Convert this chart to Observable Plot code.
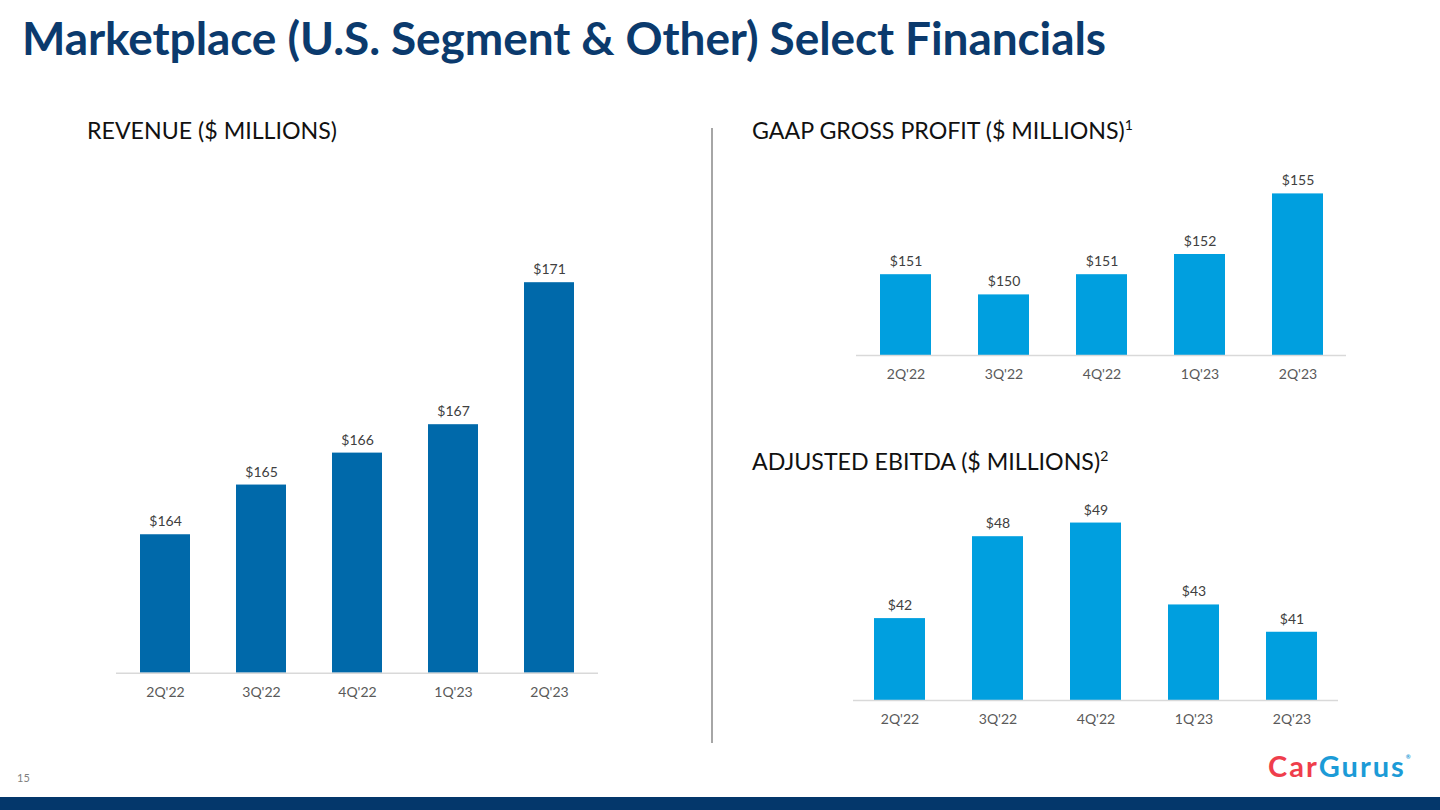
<!DOCTYPE html>
<html>
<head>
<meta charset="utf-8">
<script src="https://cdn.jsdelivr.net/npm/d3@7"></script>
<script src="https://cdn.jsdelivr.net/npm/@observablehq/plot@0.6"></script>
<style>
  html, body { margin: 0; padding: 0; background: #fff; }
  #page { position: relative; width: 1440px; height: 810px; overflow: hidden; font-family: Lato, "Open Sans", sans-serif; }
  .abs { position: absolute; }
  #title { left: 22px; top: 10px; font-size: 46px; font-weight: 700; color: #0b3a6d; white-space: nowrap; letter-spacing: -0.1px; }
  .sub { font-size: 23.2px; color: #111; white-space: nowrap; }
  .sub sup { font-size: 14px; vertical-align: 9px; }
  #divider { left: 711px; top: 128px; width: 2px; height: 615px; background: #a6a6a6; }
  #pagenum { left: 17px; top: 771px; font-size: 11px; color: #7f7f7f; }
  #footer { left: 0; top: 797px; width: 1440px; height: 13px; background: #04376b; }
  #logo { left: 1268px; top: 748px; font-size: 29px; font-weight: 700; white-space: nowrap; letter-spacing: 2px; }
  #logo .car { color: #ef3e4c; }
  #logo .gurus { color: #1c9bd7; }
  #logo sup { font-size: 6px; color: #1c9bd7; vertical-align: 18px; }
</style>
</head>
<body>
<div id="page">
  <div id="title" class="abs">Marketplace (U.S. Segment &amp; Other) Select Financials</div>
  <div class="abs sub" style="left:87px; top:116px;">REVENUE ($ MILLIONS)</div>
  <div class="abs sub" style="left:752px; top:116px;">GAAP GROSS PROFIT ($ MILLIONS)<sup>1</sup></div>
  <div class="abs sub" style="left:752px; top:447px;">ADJUSTED EBITDA ($ MILLIONS)<sup>2</sup></div>
  <div id="divider" class="abs"></div>
  <div id="chartRevenue" class="abs" style="left:100px; top:240px;"></div>
  <div id="chartGross" class="abs" style="left:840px; top:160px;"></div>
  <div id="chartEbitda" class="abs" style="left:840px; top:490px;"></div>
  <div id="pagenum" class="abs">15</div>
  <div id="logo" class="abs"><span class="car">Car</span><span class="gurus">Gurus</span><sup>®</sup></div>
  <div id="footer" class="abs"></div>
</div>
<script>
// ---- Data ----
const quarters = ["2Q'22", "3Q'22", "4Q'22", "1Q'23", "2Q'23"];
const revenue = [163.9, 165.3, 166.2, 167.0, 171.0];
const revenueLabels = ["$164", "$165", "$166", "$167", "$171"];
const grossProfit = [151, 150, 151, 152, 155];
const grossProfitLabels = ["$151", "$150", "$151", "$152", "$155"];
const adjEbitda = [42, 48, 49, 43, 41];
const adjEbitdaLabels = ["$42", "$48", "$49", "$43", "$41"];

// axis domains (truncated value axes as in the source)
const revenueDomain = [160, 172];
const grossDomain = [147, 156];
const ebitdaDomain = [36, 50];

function makeChart({values, labels, domain, color, width, height, mt, mb, ml, mr, padIn, padOut}) {
  const data = quarters.map((q, i) => ({q, v: values[i], label: labels[i]}));
  return Plot.plot({
    width, height,
    marginTop: mt, marginBottom: mb, marginLeft: ml, marginRight: mr,
    style: {fontFamily: "Lato, 'Open Sans', sans-serif", background: "transparent", overflow: "visible"},
    x: {domain: quarters, paddingInner: padIn, paddingOuter: padOut, label: null},
    y: {domain, axis: null},
    marks: [
      Plot.barY(data, {x: "q", y1: domain[0], y2: "v", fill: color}),
      Plot.ruleY([domain[0]], {stroke: "#d9d9d9", strokeWidth: 1.5}),
      Plot.text(data, {x: "q", y: "v", text: "label", dy: -13, fontSize: 14, fill: "#404040"}),
      Plot.axisX({tickSize: 0, tickPadding: 14, fontSize: 14, color: "#595959", label: null})
    ]
  });
}

document.getElementById("chartRevenue").appendChild(makeChart({
  values: revenue, labels: revenueLabels, domain: revenueDomain, color: "#0069aa",
  width: 520, height: 470, mt: 6.7, mb: 37.3, ml: 16, mr: 22, padIn: 0.478, padOut: 0.24
}));
document.getElementById("chartGross").appendChild(makeChart({
  values: grossProfit, labels: grossProfitLabels, domain: grossDomain, color: "#009fdf",
  width: 520, height: 230, mt: 13.2, mb: 35, ml: 16, mr: 14, padIn: 0.48, padOut: 0.237
}));
document.getElementById("chartEbitda").appendChild(makeChart({
  values: adjEbitda, labels: adjEbitdaLabels, domain: ebitdaDomain, color: "#009fdf",
  width: 520, height: 245, mt: 18.9, mb: 35, ml: 13, mr: 22, padIn: 0.475, padOut: 0.2
}));
</script>
</body>
</html>
